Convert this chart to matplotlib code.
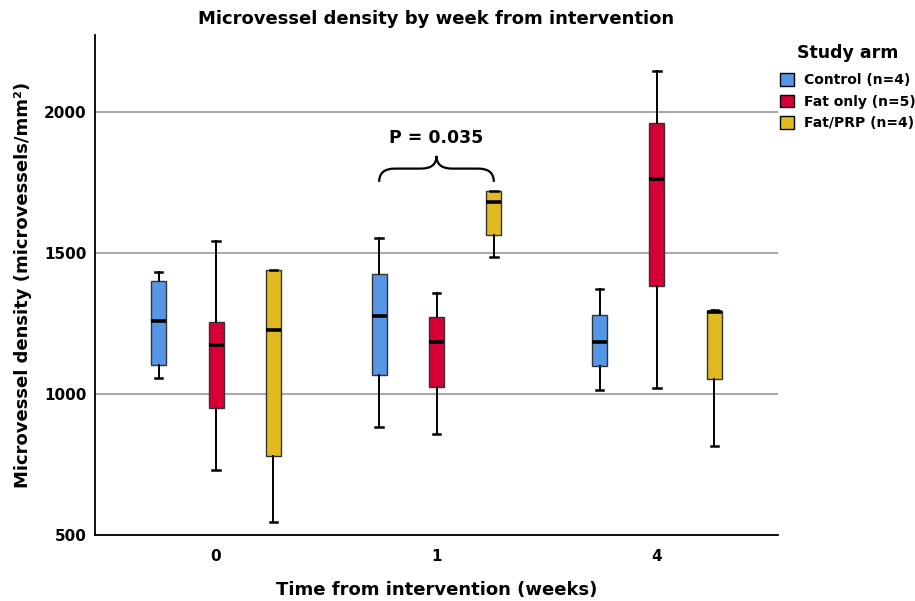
import matplotlib
matplotlib.use("Agg")
import matplotlib.pyplot as plt
from matplotlib.path import Path
from matplotlib.patches import PathPatch, Patch

plt.rcParams['font.family'] = ['DejaVu Sans']
plt.rcParams['font.weight'] = 'bold'

weeks = ["0", "1", "4"]
arms = ["Control (n=4)", "Fat only (n=5)", "Fat/PRP (n=4)"]
colors = ["#5596E6", "#D70036", "#E0BA20"]

# per arm, values for weeks 0, 1, 4
whislo = {"Control (n=4)": [1058, 882, 1015],
          "Fat only (n=5)": [729, 858, 1021],
          "Fat/PRP (n=4)": [545, 1485, 816]}
q1 = {"Control (n=4)": [1103, 1066, 1100],
      "Fat only (n=5)": [951, 1025, 1385],
      "Fat/PRP (n=4)": [780, 1563, 1052]}
med = {"Control (n=4)": [1259, 1276, 1186],
       "Fat only (n=5)": [1173, 1185, 1763],
       "Fat/PRP (n=4)": [1227, 1680, 1290]}
q3 = {"Control (n=4)": [1401, 1426, 1280],
      "Fat only (n=5)": [1254, 1274, 1961],
      "Fat/PRP (n=4)": [1440, 1719, 1293]}
whishi = {"Control (n=4)": [1434, 1553, 1372],
          "Fat only (n=5)": [1544, 1359, 2147],
          "Fat/PRP (n=4)": [1441, 1722, 1299]}

p_label = "P = 0.035"
brace_y = 1753

fig = plt.figure(figsize=(9.15, 6.01), dpi=100)
ax = fig.add_axes([95/915, 66/601, (778-95)/915, (535-35)/601])

offsets = [-0.26, 0.0, 0.26]
for ai, arm in enumerate(arms):
    stats = []
    for wi in range(len(weeks)):
        stats.append(dict(whislo=whislo[arm][wi], q1=q1[arm][wi], med=med[arm][wi],
                          q3=q3[arm][wi], whishi=whishi[arm][wi], fliers=[]))
    pos = [wi + offsets[ai] for wi in range(len(weeks))]
    ax.bxp(stats, positions=pos, widths=0.068, patch_artist=True, showfliers=False,
           manage_ticks=False, capwidths=0.034,
           boxprops=dict(facecolor=colors[ai], edgecolor="#333333", linewidth=1.0),
           medianprops=dict(color="black", linewidth=2.6),
           whiskerprops=dict(color="black", linewidth=1.4),
           capprops=dict(color="black", linewidth=1.8))

ax.set_xlim(-0.549, 2.549)
ax.set_ylim(500, 2274)
ax.set_xticks(range(len(weeks)))
ax.set_xticklabels(weeks)
ax.set_yticks([500, 1000, 1500, 2000])
ax.yaxis.grid(True, color="#AAAAAA", linewidth=1.5)
ax.set_axisbelow(True)
ax.tick_params(length=0, labelsize=11, pad=6)
ax.tick_params(axis='x', pad=10)
for s in ["top", "right"]:
    ax.spines[s].set_visible(False)
for s in ["left", "bottom"]:
    ax.spines[s].set_linewidth(1.3)

ax.set_title("Microvessel density by week from intervention", fontsize=13,
             fontweight='bold', pad=8)
ax.set_xlabel("Time from intervention (weeks)", fontsize=13, fontweight='bold', labelpad=12)
ax.set_ylabel("Microvessel density (microvessels/mm²)", fontsize=13, fontweight='bold', labelpad=9)

# brace between Control and Fat/PRP at week 1
x0 = 1 + offsets[0]
x1 = 1 + offsets[2]
xm = 1.0
y_end = brace_y
y_mid = brace_y + 47
y_tip = brace_y + 92
r = 0.07
verts = [(x0, y_end), (x0, y_mid), (x0 + r, y_mid),
         (xm - r, y_mid), (xm, y_mid), (xm, y_tip),
         (xm, y_mid), (xm + r, y_mid),
         (x1 - r, y_mid), (x1, y_mid), (x1, y_end)]
codes = [Path.MOVETO, Path.CURVE3, Path.CURVE3,
         Path.LINETO, Path.CURVE3, Path.CURVE3,
         Path.CURVE3, Path.CURVE3,
         Path.LINETO, Path.CURVE3, Path.CURVE3]
ax.add_patch(PathPatch(Path(verts, codes), facecolor='none', edgecolor='black', linewidth=1.6))
ax.text(xm, brace_y + 154, p_label, ha='center', va='center', fontsize=12.5, fontweight='bold')

handles = [Patch(facecolor=c, edgecolor='black', linewidth=1.0) for c in colors]
leg = fig.legend(handles, arms, loc='upper left', bbox_to_anchor=(780/915, 1 - 44/601),
                 frameon=False, title="Study arm", fontsize=10,
                 title_fontproperties=dict(weight='bold', size=12.5),
                 handlelength=1.0, handleheight=1.0, handletextpad=0.7,
                 labelspacing=0.55, borderaxespad=0, borderpad=0.0)
leg._legend_box.align = "center"
leg._legend_box.sep = 8

fig.savefig("out.png", dpi=100)
